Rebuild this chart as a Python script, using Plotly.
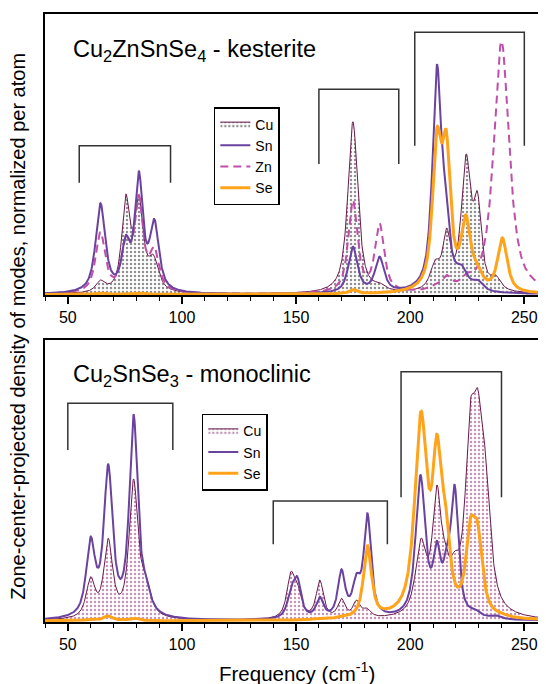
import numpy as np
import plotly.graph_objects as go

# ---------------- data ----------------
FREQ_MIN, FREQ_MAX = 40, 259.5
tick_vals = [50, 100, 150, 200, 250]

# Kesterite Cu2ZnSnSe4 (top panel): peak centre (cm-1), peak height (arb.), half width (cm-1)
kes_cu_center = [64.3, 75.4, 81.1, 87.5, 174.9, 186.6, 211.0, 216.0, 224.5, 229.5, 237.5]
kes_cu_height = [14.5, 100.5, 99.5, 40.0, 172.8, 12.0, 35.0, 66.5, 140.5, 103.0, 19.5]
kes_cu_width = [2.4, 2.1, 2.3, 2.6, 2.6, 2.6, 2.6, 2.0, 2.5, 2.0, 2.6]

kes_sn_center = [64.3, 75.4, 81.1, 87.9, 174.9, 186.6, 211.7, 215.4, 222.5, 229.5]
kes_sn_height = [91.2, 59.5, 123.8, 75.5, 47.8, 37.8, 230.0, 111.5, 30.0, 15.0]
kes_sn_width = [2.5, 2.1, 2.1, 2.4, 2.4, 2.4, 2.3, 2.2, 3.0, 2.6]

kes_zn_center = [64.3, 75.4, 81.1, 87.9, 174.9, 186.6, 211.0, 216.0, 224.5, 240.0]
kes_zn_height = [62.5, 59.5, 99.5, 47.8, 94.5, 71.2, 10.0, 19.5, 21.5, 253.0]
kes_zn_width = [2.5, 2.3, 2.3, 2.5, 2.4, 2.4, 3.5, 2.5, 2.5, 4.0]

kes_se_center = [64.0, 81.0, 174.9, 211.7, 215.8, 224.4, 229.5, 240.4]
kes_se_height = [1.5, 1.5, 5.0, 166.5, 164.5, 79.5, 31.0, 56.5]
kes_se_width = [2.5, 2.5, 2.0, 2.3, 2.2, 2.5, 2.5, 2.5]

# Monoclinic Cu2SnSe3 (bottom panel)
mon_cu_center = [60.0, 67.7, 78.8, 84.0, 147.7, 150.6, 160.4, 169.9, 176.5, 181.0, 196.0,
                 204.7, 211.7, 215.4, 219.5, 226.3, 229.5, 232.5]
mon_cu_height = [44.3, 82.7, 142.0, 48.0, 49.3, 38.0, 41.0, 22.7, 21.0, 13.0, 10.0,
                 82.7, 136.0, 77.7, 70.0, 219.0, 233.0, 180.0]
mon_cu_width = [2.3, 2.3, 2.3, 2.6, 2.1, 2.1, 1.9, 1.9, 1.9, 2.1, 3.5,
                2.8, 2.3, 2.1, 2.6, 2.6, 2.3, 3.0]

mon_sn_center = [60.0, 67.7, 78.8, 84.0, 148.0, 150.6, 160.4, 169.9, 176.5, 181.3,
                 204.5, 211.7, 216.1, 219.5, 228.5, 237.2]
mon_sn_height = [84.3, 156.7, 206.7, 47.0, 36.0, 44.3, 24.3, 51.7, 47.7, 107.7,
                 146.0, 80.3, 78.0, 136.0, 12.0, 6.0]
mon_sn_width = [2.3, 2.3, 2.2, 2.6, 2.1, 1.9, 1.9, 1.9, 2.1, 1.9,
                2.5, 1.9, 1.9, 1.9, 2.6, 2.6]

mon_se_center = [60.0, 67.7, 78.8, 160.4, 170.0, 181.3, 196.0, 204.7, 211.7, 215.4,
                 226.3, 229.5, 240.0]
mon_se_height = [2.0, 5.0, 3.0, 3.0, 5.0, 75.3, 16.0, 210.3, 186.7, 119.3,
                 102.7, 99.3, 8.0]
mon_se_width = [2.5, 2.5, 2.5, 2.5, 2.5, 2.1, 3.5, 3.2, 2.3, 2.3,
                2.3, 2.5, 3.0]

# mode-group brackets: (start, end) in cm-1, bar height, leg height
kes_bracket_lo = [55, 160, 202]
kes_bracket_hi = [95, 195, 250]
kes_bracket_top = [148.8, 205.2, 262.2]
kes_bracket_leg = [111.8, 130.5, 148.8]

mon_bracket_lo = [50, 140, 196]
mon_bracket_hi = [96, 190, 240]
mon_bracket_top = [217.7, 120.0, 249.3]
mon_bracket_leg = [171.0, 76.7, 123.7]

# ---------------- helpers ----------------
def pvoigt(d, w, eta=0.8):
    r2 = (d / w) ** 2
    return eta / (1.0 + r2) + (1 - eta) * np.exp(-np.log(2) * r2)


def spectrum(centers, heights, widths, x):
    c = np.asarray(centers, float)
    h = np.asarray(heights, float)
    w = np.asarray(widths, float)
    M = pvoigt(c[:, None] - c[None, :], w[None, :])
    active = np.ones(len(c), bool)
    a = np.zeros(len(c))
    for _ in range(len(c)):
        a = np.zeros(len(c))
        sol = np.linalg.lstsq(M[:, active], h, rcond=None)[0]
        a[active] = sol
        if (sol >= 0).all():
            break
        idx = np.where(active)[0][np.argmin(sol)]
        active[idx] = False
    a = np.clip(a, 0, None)
    return (a[None, :] * pvoigt(x[:, None] - c[None, :], w[None, :])).sum(axis=1)


x = np.linspace(FREQ_MIN, FREQ_MAX, 1400)

CU_LINE = '#6b1a4d'
SN_COL = '#6a42a0'
ZN_COL = '#bf4fa8'
SE_COL = '#ffa31a'
FONT = 'Liberation Sans, Arial, Helvetica, sans-serif'

fig = go.Figure()

# ---- top panel ----
fig.add_trace(go.Scatter(
    x=x, y=spectrum(kes_cu_center, kes_cu_height, kes_cu_width, x), name='Cu',
    mode='lines', line=dict(color=CU_LINE, width=1), fill='tozeroy',
    fillpattern=dict(shape='.', fgcolor='#222222', bgcolor='white', size=4, solidity=0.3),
    xaxis='x', yaxis='y', legend='legend', legendrank=1))
fig.add_trace(go.Scatter(
    x=x, y=spectrum(kes_zn_center, kes_zn_height, kes_zn_width, x), name='Zn',
    mode='lines', line=dict(color=ZN_COL, width=2, dash='8px,5px'),
    xaxis='x', yaxis='y', legend='legend', legendrank=3))
fig.add_trace(go.Scatter(
    x=x, y=spectrum(kes_sn_center, kes_sn_height, kes_sn_width, x), name='Sn',
    mode='lines', line=dict(color=SN_COL, width=2),
    xaxis='x', yaxis='y', legend='legend', legendrank=2))
fig.add_trace(go.Scatter(
    x=x, y=spectrum(kes_se_center, kes_se_height, kes_se_width, x), name='Se',
    mode='lines', line=dict(color=SE_COL, width=3),
    xaxis='x', yaxis='y', legend='legend', legendrank=4))

# ---- bottom panel ----
fig.add_trace(go.Scatter(
    x=x, y=spectrum(mon_cu_center, mon_cu_height, mon_cu_width, x), name='Cu',
    mode='lines', line=dict(color=CU_LINE, width=1), fill='tozeroy',
    fillpattern=dict(shape='.', fgcolor='#8a2a6e', bgcolor='white', size=4, solidity=0.3),
    xaxis='x2', yaxis='y2', legend='legend2', legendrank=1))
fig.add_trace(go.Scatter(
    x=x, y=spectrum(mon_sn_center, mon_sn_height, mon_sn_width, x), name='Sn',
    mode='lines', line=dict(color=SN_COL, width=2),
    xaxis='x2', yaxis='y2', legend='legend2', legendrank=2))
fig.add_trace(go.Scatter(
    x=x, y=spectrum(mon_se_center, mon_se_height, mon_se_width, x), name='Se',
    mode='lines', line=dict(color=SE_COL, width=3),
    xaxis='x2', yaxis='y2', legend='legend2', legendrank=3))

# brackets
shapes = []
for lo, hi, top, leg in zip(kes_bracket_lo, kes_bracket_hi, kes_bracket_top, kes_bracket_leg):
    shapes.append(dict(type='path', xref='x', yref='y',
                       path=f'M {lo},{leg} L {lo},{top} L {hi},{top} L {hi},{leg}',
                       line=dict(color='#333333', width=1.5)))
for lo, hi, top, leg in zip(mon_bracket_lo, mon_bracket_hi, mon_bracket_top, mon_bracket_leg):
    shapes.append(dict(type='path', xref='x2', yref='y2',
                       path=f'M {lo},{leg} L {lo},{top} L {hi},{top} L {hi},{leg}',
                       line=dict(color='#333333', width=1.5)))

xaxis_common = dict(
    range=[FREQ_MIN, FREQ_MAX], showline=True, linecolor='black', linewidth=1.5, mirror=True,
    ticks='outside', ticklen=7, tickwidth=1.5, tickcolor='black', tickvals=tick_vals,
    tickfont=dict(size=16, color='black', family=FONT),
    minor=dict(dtick=10, tick0=0, ticks='outside', ticklen=4, tickwidth=1.2, tickcolor='black'),
    showgrid=False, zeroline=False)
yaxis_common = dict(showline=True, linecolor='black', linewidth=1.5, showticklabels=False,
                    ticks='', showgrid=False, zeroline=False)

legend_common = dict(xanchor='left', yanchor='top', bordercolor='black', borderwidth=1.5,
                     bgcolor='white', font=dict(size=14, color='black', family=FONT),
                     itemwidth=30, tracegroupgap=0)

# the page body adds an 8 px margin, so the figure is 8 px smaller and shifted
fig.update_layout(
    width=538, height=676,
    margin=dict(l=37, r=0, t=6, b=62),
    paper_bgcolor='white', plot_bgcolor='white',
    font=dict(family=FONT, color='black'),
    xaxis=dict(domain=[0, 1], anchor='y', **xaxis_common),
    yaxis=dict(domain=[0.5378, 1], anchor='x', range=[-0.5, 280.5], **yaxis_common),
    xaxis2=dict(domain=[0, 1], anchor='y2', **xaxis_common),
    yaxis2=dict(domain=[0, 0.4638], anchor='x2', range=[-1, 281], **yaxis_common),
    legend=dict(x=0.337, y=0.847, **legend_common),
    legend2=dict(x=0.313, y=0.3425, **legend_common),
    shapes=shapes,
    showlegend=True,
    annotations=[
        dict(text='Cu<sub>2</sub>ZnSnSe<sub>4</sub> - kesterite', xref='x', yref='y',
             x=51.6, y=244, xanchor='left', yanchor='middle', showarrow=False,
             font=dict(size=23.5, color='black', family=FONT)),
        dict(text='Cu<sub>2</sub>SnSe<sub>3</sub> - monoclinic', xref='x2', yref='y2',
             x=51.2, y=246, xanchor='left', yanchor='middle', showarrow=False,
             font=dict(size=23.5, color='black', family=FONT)),
        dict(text='Frequency (cm<sup>-1</sup>)', xref='paper', yref='paper',
             x=0.503, y=-0.082, xanchor='center', yanchor='middle', showarrow=False,
             font=dict(size=20.5, color='black', family=FONT)),
        dict(text='Zone-center-projected density of modes, normalized per atom',
             xref='paper', yref='paper', x=-0.054, y=0.487, xanchor='center',
             yanchor='middle', textangle=-90, showarrow=False,
             font=dict(size=20, color='black', family=FONT)),
    ],
)

fig.write_html('out.html')
